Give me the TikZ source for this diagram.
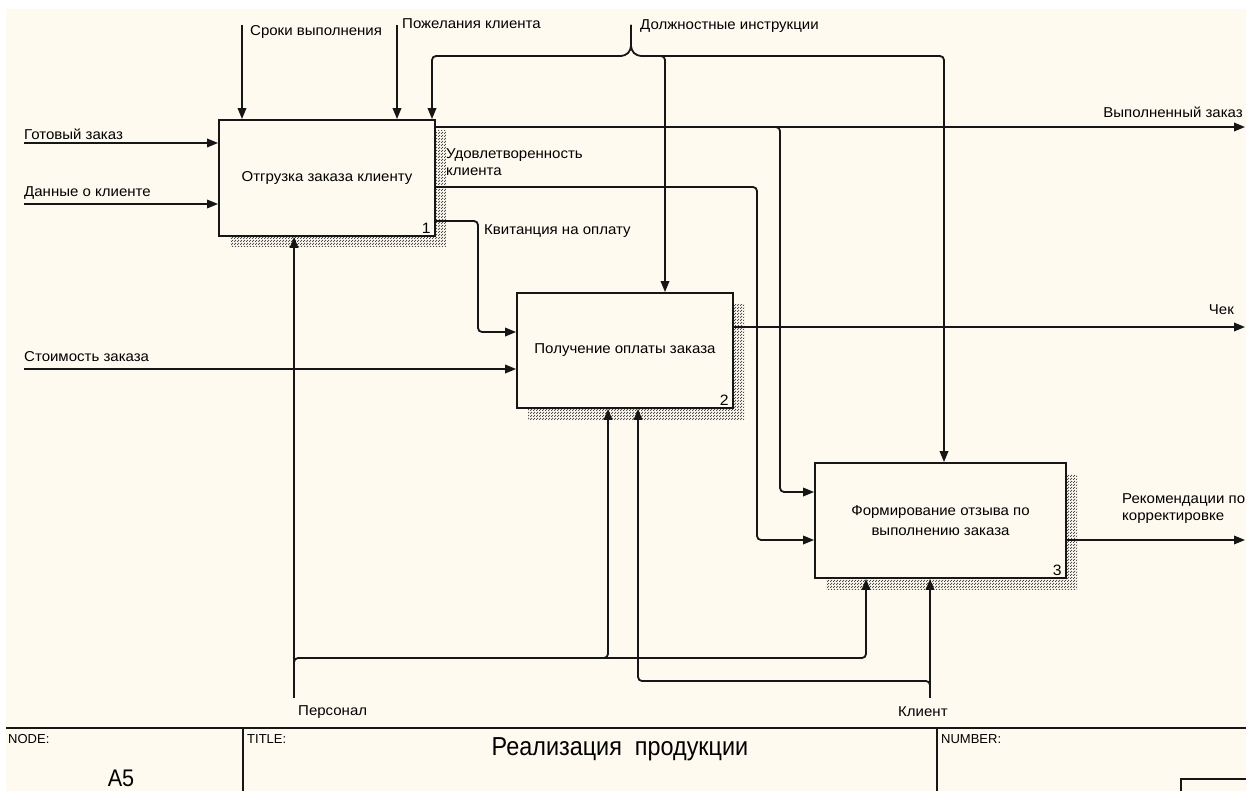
\documentclass[tikz,border=0pt]{standalone}
\usepackage{fontspec}
\setmainfont{Liberation Sans}[FakeStretch=1.05]
\newfontfamily\narrowfont[FakeStretch=0.90]{Liberation Sans}
\newfontfamily\framefont{Liberation Sans}
\usetikzlibrary{arrows.meta,patterns,shadows,calc}
\definecolor{paper}{RGB}{255,250,240}
\definecolor{ink}{RGB}{22,22,22}

% fine checkered hatching used for the box shadows
\pgfdeclarepatternformonly{checkerdots}{\pgfpointorigin}{\pgfpoint{2.6pt}{2.6pt}}{\pgfpoint{2.6pt}{2.6pt}}{%
  \pgfpathrectangle{\pgfpointorigin}{\pgfpoint{1.2pt}{1.2pt}}%
  \pgfpathrectangle{\pgfpoint{1.3pt}{1.3pt}}{\pgfpoint{1.2pt}{1.2pt}}%
  \pgfusepath{fill}}

\begin{document}
\begin{tikzpicture}[x=1pt,y=-1pt,
  flow/.style={line width=1.8pt, draw=ink, rounded corners=4pt},
  arr/.style={flow, -{Triangle[length=11pt,width=8.5pt]}},
  func/.style={draw=ink, line width=1.8pt, fill=paper, minimum height=116pt,
    align=center, font=\fontsize{14.3}{19.5}\selectfont, inner sep=0pt,
    general shadow={pattern=checkerdots, pattern color=black!70,
      shadow xshift=11pt, shadow yshift=-11pt}},
  num/.style={font=\fontsize{15}{16}\selectfont, inner sep=0pt, anchor=south east},
  lbl/.style={font=\fontsize{14.3}{17}\selectfont, inner sep=0pt, anchor=west, align=left},
  frame/.style={line width=1.6pt, draw=ink},
  ftxt/.style={font=\framefont\fontsize{13}{15}\selectfont, inner sep=0pt, anchor=north west},
]
\useasboundingbox (0,0) rectangle (1246,791);
\clip (0,0) rectangle (1246,791);
\fill[paper] (6,9) rectangle (1246,791);

% activity boxes
\node[func, minimum width=216pt] (b1) at (327,178) {Отгрузка заказа клиенту};
\node[func, minimum width=216pt, minimum height=115pt] (b2) at (625,350.5) {Получение оплаты заказа};
\node[func, minimum width=251pt, minimum height=115pt] (b3) at (940.5,520.5) {Формирование отзыва по\\выполнению заказа};
\node[num] (n1) at ($(b1.south east)+(-5,-3)$) {1};
\node[num] (n2) at ($(b2.south east)+(-5,-3)$) {2};
\node[num] (n3) at ($(b3.south east)+(-5,-3)$) {3};

% free ends and bends
\coordinate (in1) at (24,143);
\coordinate (in2) at (24,204);
\coordinate (in3) at (24,369);
\coordinate (ct1) at (242,25);
\coordinate (ct2) at (397,25);
\coordinate (ct3) at (631,25);
\coordinate (dj) at (631,50);
\coordinate (dL) at (432,56);
\coordinate (dM) at (665,56);
\coordinate (dR) at (944,56);
\coordinate (out1) at (1245,127);
\coordinate (out2) at (1245,327);
\coordinate (out3) at (1245,540);
\coordinate (s1) at (780,127);
\coordinate (r1) at (780,492);
\coordinate (u1) at (757,187);
\coordinate (u2) at (757,540);
\coordinate (k1) at (478,221);
\coordinate (k2) at (478,332);
\coordinate (m1) at (294,698);
\coordinate (m2) at (930,698);
\coordinate (p0) at (294,658);
\coordinate (p1) at (608,658);
\coordinate (p2) at (866,658);
\coordinate (q0) at (930,681);
\coordinate (q1) at (638,681);

% inputs
\draw[arr] (in1) -- (in1 -| b1.west);
\draw[arr] (in2) -- (in2 -| b1.west);
\draw[arr] (in3) -- (in3 -| b2.west);

% controls
\draw[arr] (ct1) -- (ct1 |- b1.north);
\draw[arr] (ct2) -- (ct2 |- b1.north);
\draw[arr] (ct3) -- (dj) -- ++(-6,6) -- (dL) -- (dL |- b1.north);
\draw[arr] (ct3) -- (dj) -- ++(6,6) -- (dR) -- (dR |- b3.north);
\draw[arr] (dM) ++(-8,0) -- (dM) -- (dM |- b2.north);

% outputs
\draw[arr] (b1.east |- out1) -- (out1);
\draw[arr] (s1) ++(-8,0) -- (s1) -- (r1) -- (r1 -| b3.west);
\draw[arr] (b1.east |- u1) -- (u1) -- (u2) -- (u2 -| b3.west);
\draw[arr] (b1.east |- k1) -- (k1) -- (k2) -- (k2 -| b2.west);
\draw[arr] (b2.east |- out2) -- (out2);
\draw[arr] (b3.east |- out3) -- (out3);

% mechanisms
\draw[arr] (m1) -- (m1 |- b1.south);
\draw[arr] (p0) ++(0,8) -- (p0) -- (p2) -- (p2 |- b3.south);
\draw[arr] (p1) ++(-8,0) -- (p1) -- (p1 |- b2.south);
\draw[arr] (m2) -- (m2 |- b3.south);
\draw[arr] (q0) ++(0,8) -- (q0) -- (q1) -- (q1 |- b2.south);

% arrow labels
\node[lbl] (t1) at (250,32) {Сроки выполнения};
\node[lbl] (t2) at (402,24) {Пожелания клиента};
\node[lbl] (t3) at (640,26) {Должностные инструкции};
\node[lbl] (t4) at (24,134) {Готовый заказ};
\node[lbl] (t5) at (24,193) {Данные о клиенте};
\node[lbl] (t6) at (446,162) {Удовлетворенность\\клиента};
\node[lbl] (t7) at (484,231) {Квитанция на оплату};
\node[lbl, anchor=east] (t8) at (1243,112) {Выполненный заказ};
\node[lbl] (t9) at (24,357) {Стоимость заказа};
\node[lbl, anchor=east] (t10) at (1234,310) {Чек};
\node[lbl] (t11) at (1122,509) {Рекомендации по\\корректировке};
\node[lbl] (t12) at (298,712) {Персонал};
\node[lbl] (t13) at (898,712) {Клиент};

% title block
\draw[frame] (6,728) -- (1246,728);
\draw[frame] (243,728) -- (243,791);
\draw[frame] (937,728) -- (937,791);
\draw[frame] (1181,800) -- (1181,779) -- (1250,779);
\node[ftxt] (f1) at (8,734) {NODE:};
\node[ftxt] (f2) at (247,734) {TITLE:};
\node[ftxt] (f3) at (941,734) {NUMBER:};
\node[font=\narrowfont\fontsize{26}{28}\selectfont, inner sep=0pt] (f4) at (620,749) {Реализация\ \ продукции};
\node[font=\narrowfont\fontsize{24}{26}\selectfont, inner sep=0pt, anchor=base] (f5) at (121,786) {A5};
\end{tikzpicture}
\end{document}
